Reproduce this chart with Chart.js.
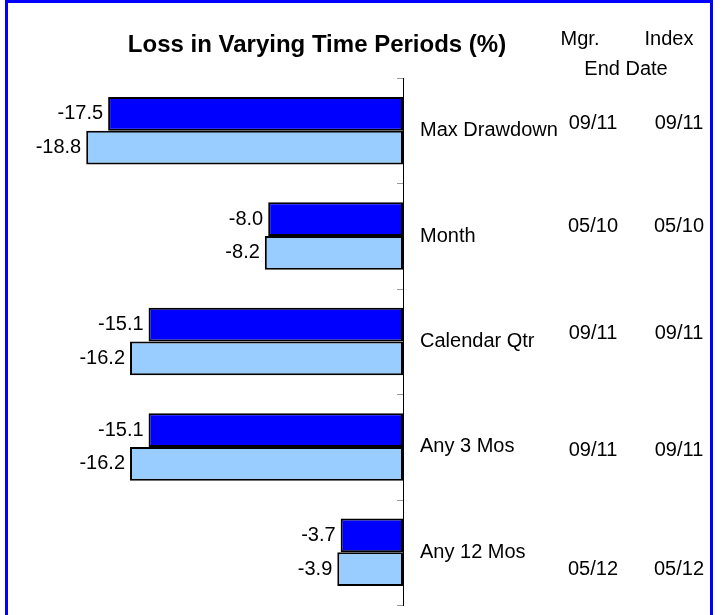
<!DOCTYPE html>
<html>
<head>
<meta charset="utf-8">
<script src="https://cdn.jsdelivr.net/npm/chart.js@4"></script>
<style>
  html, body { margin: 0; padding: 0; background: #fff; }
  #wrap { position: relative; width: 727px; height: 615px; }
</style>
</head>
<body>
<div id="wrap"><canvas id="lossChart" width="727" height="615"></canvas></div>
<script>
// data
const periods = ['Max Drawdown', 'Month', 'Calendar Qtr', 'Any 3 Mos', 'Any 12 Mos'];
const mgrLoss = [-17.5, -8.0, -15.1, -15.1, -3.7];
const indexLoss = [-18.8, -8.2, -16.2, -16.2, -3.9];
const mgrEndDate = ['09/11', '05/10', '09/11', '09/11', '05/12'];
const indexEndDate = ['09/11', '05/10', '09/11', '09/11', '05/12'];

const FONT = '"Liberation Sans", Arial, sans-serif';
Chart.defaults.font.family = FONT;
Chart.defaults.color = '#000';

// nudges for the date table rows (baseline offset from category centre)
const dateShift = [-1.5, -4, -2.5, 9, 22.5];

const extras = {
  id: 'extras',
  afterDatasetsDraw(chart) {
    const ctx = chart.ctx;
    const area = chart.chartArea;
    const yScale = chart.scales.y;
    ctx.save();

    // value labels left of each bar
    ctx.font = '20px ' + FONT;
    ctx.fillStyle = '#000';
    ctx.textAlign = 'right';
    ctx.textBaseline = 'middle';
    chart.data.datasets.forEach((ds, i) => {
      chart.getDatasetMeta(i).data.forEach((bar, j) => {
        ctx.fillText(ds.data[j].toFixed(1), bar.x - 5, bar.y);
      });
    });

    // small grey ticks at category boundaries
    const step = (area.bottom - area.top) / periods.length;
    ctx.strokeStyle = '#999';
    ctx.lineWidth = 1;
    for (let i = 0; i <= periods.length; i++) {
      const y = Math.round(area.top + i * step) + 0.5;
      ctx.beginPath();
      ctx.moveTo(area.right - 6, y);
      ctx.lineTo(area.right, y);
      ctx.stroke();
    }

    // title
    ctx.font = 'bold 24px ' + FONT;
    ctx.textAlign = 'center';
    ctx.textBaseline = 'alphabetic';
    ctx.fillText('Loss in Varying Time Periods (%)', 317, 52);

    // end date table
    ctx.font = '20px ' + FONT;
    ctx.fillText('Mgr.', 580, 45);
    ctx.fillText('Index', 669, 45);
    ctx.fillText('End Date', 626, 75);
    periods.forEach((p, j) => {
      const y = yScale.getPixelForValue(j) + dateShift[j];
      ctx.fillText(mgrEndDate[j], 593, y);
      ctx.fillText(indexEndDate[j], 679, y);
    });

    // blue frame
    ctx.fillStyle = '#0000FF';
    ctx.fillRect(5, 0, 708, 3);
    ctx.fillRect(5, 0, 3, 615);
    ctx.fillRect(710, 0, 3, 615);
    ctx.restore();
  }
};

new Chart(document.getElementById('lossChart'), {
  type: 'bar',
  data: {
    labels: periods,
    datasets: [
      {
        label: 'Mgr.',
        data: mgrLoss,
        backgroundColor: '#0000FF',
        borderColor: '#000',
        borderWidth: 2,
        borderSkipped: false
      },
      {
        label: 'Index',
        data: indexLoss,
        backgroundColor: '#99CCFF',
        borderColor: '#000',
        borderWidth: 2,
        borderSkipped: false
      }
    ]
  },
  options: {
    indexAxis: 'y',
    responsive: false,
    animation: false,
    categoryPercentage: 0.64,
    barPercentage: 1.0,
    layout: { padding: { left: 66, top: 78, right: 0, bottom: 10 } },
    plugins: {
      legend: { display: false },
      tooltip: { enabled: false }
    },
    scales: {
      x: {
        display: false,
        min: -20,
        max: 0
      },
      y: {
        position: 'right',
        grid: { display: false, drawTicks: false },
        border: { display: true, color: '#000', width: 1 },
        ticks: {
          padding: 17,
          font: { size: 20 },
          color: '#000'
        },
        afterFit(scale) {
          scale.width = 324;
          // tick padding shouldn't push the plot area up from the bottom
          scale.paddingTop = 0;
          scale.paddingBottom = 0;
        }
      }
    }
  },
  plugins: [extras]
});
</script>
</body>
</html>
